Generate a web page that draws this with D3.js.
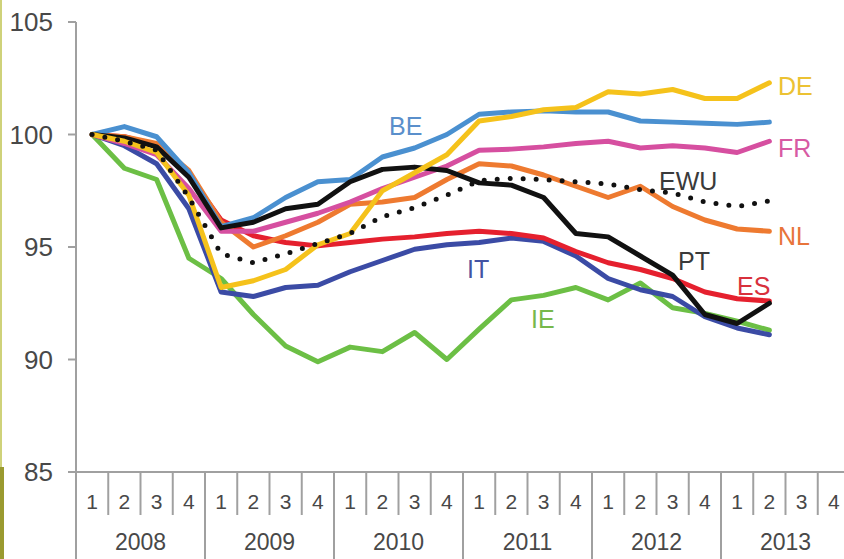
<!DOCTYPE html>
<html>
<head>
<meta charset="utf-8">
<script src="https://cdn.jsdelivr.net/npm/d3@7"></script>
<style>
  html, body { margin: 0; padding: 0; background: #fff; }
  svg { display: block; font-family: "Liberation Sans", Arial, sans-serif; }
</style>
</head>
<body>
<svg width="844" height="559"></svg>
<script>
// --- Data (index, 2008Q1 = 100) ---
const years = ["2008", "2009", "2010", "2011", "2012", "2013"];
const quarterLabels = ["1", "2", "3", "4"];
const yTicks = [85, 90, 95, 100, 105];

const DE  = [100, 99.7, 99.2, 97.3, 93.2, 93.5, 94.0, 95.1, 95.6, 97.5, 98.3, 99.1, 100.6, 100.8, 101.1, 101.2, 101.9, 101.8, 102.0, 101.6, 101.6, 102.3];
const BE  = [100, 100.35, 99.9, 98.3, 95.9, 96.3, 97.2, 97.9, 98.0, 99.0, 99.4, 100.0, 100.9, 101.0, 101.05, 101.0, 101.0, 100.6, 100.55, 100.5, 100.45, 100.55];
const FR  = [100, 99.6, 99.1, 97.6, 95.7, 95.7, 96.1, 96.5, 97.0, 97.6, 98.1, 98.6, 99.3, 99.35, 99.45, 99.6, 99.7, 99.4, 99.5, 99.4, 99.2, 99.7];
const NL  = [100, 99.9, 99.6, 98.4, 96.1, 95.0, 95.5, 96.1, 96.9, 97.0, 97.2, 98.0, 98.7, 98.6, 98.2, 97.7, 97.2, 97.7, 96.8, 96.2, 95.8, 95.7];
const IT  = [100, 99.5, 98.7, 96.7, 93.0, 92.8, 93.2, 93.3, 93.9, 94.4, 94.9, 95.1, 95.2, 95.4, 95.25, 94.6, 93.6, 93.1, 92.8, 91.9, 91.4, 91.1];
const ES  = [100, 99.9, 99.5, 98.2, 96.2, 95.5, 95.2, 95.05, 95.2, 95.35, 95.45, 95.6, 95.7, 95.6, 95.4, 94.8, 94.3, 94.0, 93.6, 93.0, 92.7, 92.6];
const PT  = [100, 99.85, 99.45, 98.1, 95.85, 96.1, 96.7, 96.9, 97.9, 98.45, 98.55, 98.4, 97.85, 97.75, 97.2, 95.6, 95.45, 94.6, 93.75, 92.0, 91.6, 92.5];
const IE  = [100, 98.5, 98.0, 94.5, 93.6, 92.0, 90.6, 89.9, 90.55, 90.35, 91.2, 90.0, 91.35, 92.65, 92.85, 93.2, 92.65, 93.4, 92.3, 92.05, 91.7, 91.3];
const EWU = [100, 99.7, 99.3, 97.2, 94.7, 94.3, 94.7, 95.15, 95.6, 96.35, 96.75, 97.3, 97.95, 98.05, 98.0, 97.9, 97.8, 97.55, 97.4, 97.0, 96.8, 97.05];

// drawing order (bottom to top)
const series = [
  { name: "IE", values: IE, color: "#6cbf45" },
  { name: "IT", values: IT, color: "#3b4ba5" },
  { name: "ES", values: ES, color: "#e5202e" },
  { name: "NL", values: NL, color: "#ee7a30" },
  { name: "FR", values: FR, color: "#d64fa0" },
  { name: "BE", values: BE, color: "#4a90d0" },
  { name: "PT", values: PT, color: "#111111" },
  { name: "DE", values: DE, color: "#f5c21b" },
  { name: "EWU", values: EWU, color: "#111111", dotted: true }
];

const labels = [
  { text: "DE",  x: 778, y: 95,  color: "#ecc233" },
  { text: "BE",  x: 389, y: 135, color: "#5a8fcb" },
  { text: "FR",  x: 778, y: 157, color: "#d75aa3" },
  { text: "EWU", x: 659, y: 190, color: "#3a3a3a" },
  { text: "NL",  x: 778, y: 245, color: "#e8743a" },
  { text: "PT",  x: 678, y: 270, color: "#3a3a3a" },
  { text: "IT",  x: 467, y: 278, color: "#4453a3" },
  { text: "ES",  x: 737, y: 295, color: "#d8303c" },
  { text: "IE",  x: 531, y: 328, color: "#78b84c" }
];

// --- Setup ---
const svg = d3.select("svg");
const axisColor = "#a0a0a0";
const textColor = "#484848";

const quarterKeys = d3.range(years.length * 4);
const x = d3.scaleBand().domain(quarterKeys).range([76, 850]).padding(0);
const y = d3.scaleLinear().domain([85, 105]).range([472, 22]);
const bw = x.bandwidth();

// left frame edge from the source picture
svg.append("rect").attr("x", 0).attr("y", 0).attr("width", 2).attr("height", 467).attr("fill", "#cfd27a");
svg.append("rect").attr("x", 0).attr("y", 467).attr("width", 4).attr("height", 92).attr("fill", "#9a9a30");

// --- Y axis ---
const yAxis = svg.append("g");
yAxis.append("line")
  .attr("x1", 76).attr("x2", 76)
  .attr("y1", y(105)).attr("y2", 559)
  .attr("stroke", axisColor).attr("stroke-width", 2);
yAxis.selectAll(".tick").data(yTicks).enter().append("line")
  .attr("x1", 68).attr("x2", 76)
  .attr("y1", d => y(d)).attr("y2", d => y(d))
  .attr("stroke", axisColor).attr("stroke-width", 2);
yAxis.selectAll("text").data(yTicks).enter().append("text")
  .attr("x", 53).attr("y", d => y(d))
  .attr("dy", "0.36em")
  .attr("text-anchor", "end")
  .attr("font-size", "26px")
  .attr("fill", textColor)
  .text(d => d);

// --- X axis (quarters + years) ---
const xAxis = svg.append("g");
xAxis.append("line")
  .attr("x1", 68).attr("x2", 844)
  .attr("y1", y(85)).attr("y2", y(85))
  .attr("stroke", axisColor).attr("stroke-width", 2);
// separators
xAxis.selectAll(".sep").data(quarterKeys.slice(1).concat([quarterKeys.length])).enter().append("line")
  .attr("x1", d => x(0) + d * bw).attr("x2", d => x(0) + d * bw)
  .attr("y1", y(85))
  .attr("y2", d => d % 4 === 0 ? 559 : 515)
  .attr("stroke", axisColor).attr("stroke-width", 2);
xAxis.selectAll(".q").data(quarterKeys).enter().append("text")
  .attr("x", d => x(d) + bw / 2)
  .attr("y", 501)
  .attr("dy", "0.36em")
  .attr("text-anchor", "middle")
  .attr("font-size", "21px")
  .attr("fill", textColor)
  .text(d => quarterLabels[d % 4]);
xAxis.selectAll(".yr").data(years).enter().append("text")
  .attr("x", (d, i) => x(i * 4) + bw * 2)
  .attr("y", 542)
  .attr("dy", "0.36em")
  .attr("text-anchor", "middle")
  .attr("font-size", "23px")
  .attr("fill", textColor)
  .text(d => d);

// --- Lines ---
const line = d3.line()
  .x((d, i) => x(i) + bw / 2)
  .y(d => y(d));

svg.append("g").selectAll("path").data(series).enter().append("path")
  .attr("d", d => line(d.values))
  .attr("fill", "none")
  .attr("stroke", d => d.color)
  .attr("stroke-width", d => d.dotted ? 5 : 5)
  .attr("stroke-linejoin", "round")
  .attr("stroke-linecap", "round")
  .attr("stroke-dasharray", d => d.dotted ? "0 13" : null);

// --- Labels ---
svg.append("g").selectAll("text").data(labels).enter().append("text")
  .attr("x", d => d.x).attr("y", d => d.y)
  .attr("font-size", "25px")
  .attr("fill", d => d.color)
  .text(d => d.text);
</script>
</body>
</html>
